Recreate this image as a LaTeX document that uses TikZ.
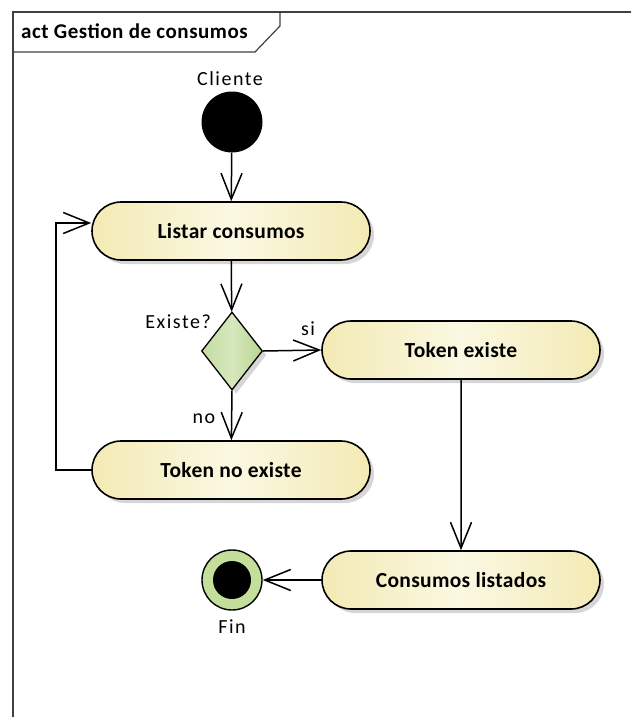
\documentclass[tikz,border=0pt]{standalone}
\usepackage{fontspec}
\setmainfont{Carlito}
\usetikzlibrary{shapes.misc,shapes.geometric,arrows.meta,shadows}

\definecolor{actedge}{HTML}{F3EAB4}
\definecolor{actmid}{HTML}{FBF8E2}
\definecolor{decedge}{HTML}{BAD592}
\definecolor{decmid}{HTML}{D6E8BC}
\definecolor{finring}{HTML}{C4DE9C}
\definecolor{shadowgray}{HTML}{D6D6D6}
\definecolor{framegray}{HTML}{404040}

\newfontfamily\labelfont[LetterSpace=7.5]{Carlito}
\newfontfamily\boldfont[LetterSpace=1.5]{Carlito Bold}
\newfontfamily\titlefont[LetterSpace=2.5]{Carlito Bold}

\tikzset{
  x=1pt, y=-1pt,
  txt/.style={font=\labelfont\fontsize{20}{23}\selectfont, inner sep=0pt},
  softshadow/.style={drop shadow={shadow xshift=4pt, shadow yshift=-4pt, fill=shadowgray, opacity=1}},
  action/.style={rounded rectangle, draw=black, line width=1.6pt,
    minimum width=278pt, minimum height=58pt, inner sep=0pt,
    left color=actedge, right color=actedge, middle color=actmid,
    font=\boldfont\fontsize{21.5}{24}\selectfont, softshadow},
  decision/.style={diamond, draw=black, line width=1.3pt, inner sep=0pt,
    minimum width=61pt, minimum height=78pt,
    left color=decedge!85, right color=decedge, middle color=decmid, softshadow},
  startnode/.style={circle, fill=black, minimum size=61pt, inner sep=0pt},
  endnode/.style={circle, draw=black, line width=1.4pt, fill=finring, minimum size=60pt, inner sep=0pt},
  endcore/.style={circle, fill=black, minimum size=38pt, inner sep=0pt},
  flow/.style={line width=1.5pt, -{Straight Barb[length=26pt, width=21pt, line width=1.5pt]}},
}

\begin{document}
\begin{tikzpicture}
\useasboundingbox (0,0) rectangle (631,717);

% diagram frame and its name tab
\draw[line width=1.2pt, framegray] (631,12) -- (13,12) -- (13,717);
\draw[line width=1.2pt, framegray] (13,52) -- (255,52) -- (280,26) -- (280,12);
\node[txt, font=\titlefont\fontsize{21}{24}\selectfont, anchor=west] (title) at (21,31) {act Gestion de consumos};

% nodes
\node[startnode] (start) at (232,122) {};
\node[txt] (startlbl) at (230,79) {Cliente};

\node[action] (listar) at (231,231) {Listar consumos};
\node[decision] (existe) at (232,351) {};
\node[txt, anchor=east] (existelbl) at (211,322) {Existe?};

\node[action] (tokensi) at (461,350) {Token existe};
\node[action] (tokenno) at (231,470) {Token no existe};
\node[action] (listados) at (461,580) {Consumos listados};

\node[endnode] (fin) at (232,580) {};
\node[endcore] (fincore) at (fin.center) {};
\node[txt] (finlbl) at (232,627) {Fin};

% guard labels
\node[txt] (silbl) at (308,329) {si};
\node[txt] (nolbl) at (204,419) {no};

% control flows
\draw[flow] (start) -- (listar);
\draw[flow] (listar) -- (existe);
\draw[flow] (existe.east) -- (tokensi.west);
\draw[flow] (existe.south) -- (tokenno);
\draw[flow] (tokensi) -- (listados);
\draw[flow] (listados.west) -- (fin.east);
\coordinate (loopturn) at (56,223);
\draw[flow] (tokenno.west) -| (loopturn) -- ([yshift=8pt]listar.west);

\end{tikzpicture}
\end{document}
